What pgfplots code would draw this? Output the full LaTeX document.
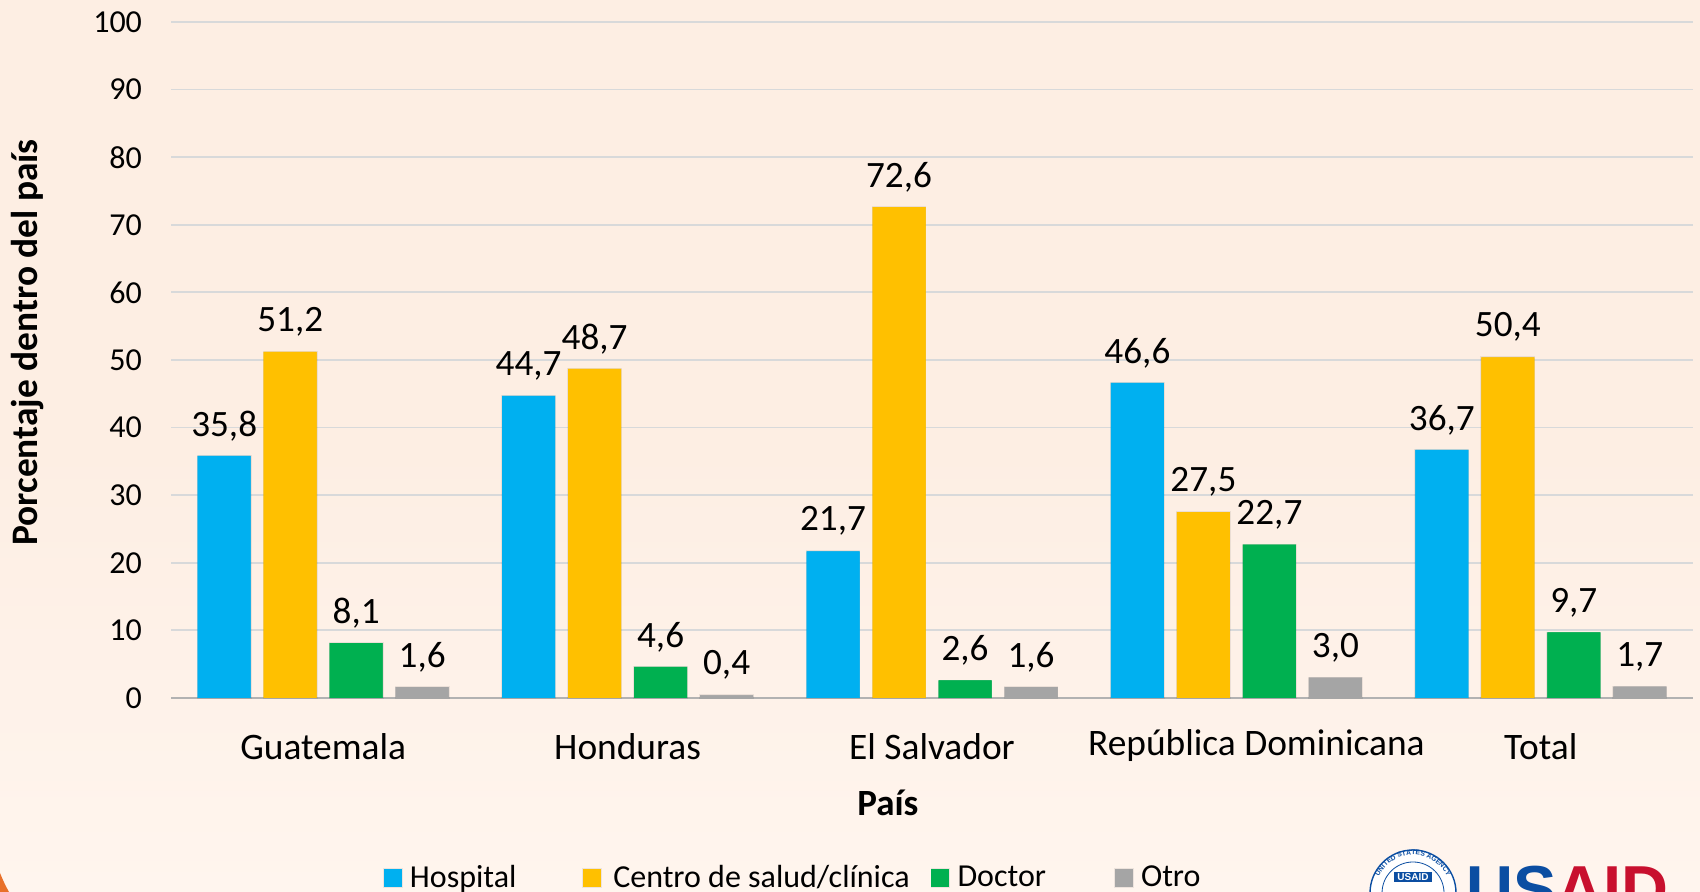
\documentclass[border=0pt]{standalone}
\usepackage{pgfplots}
\pgfplotsset{compat=1.18}
\usepackage{fontspec}
\usetikzlibrary{decorations.text}
\setmainfont{Carlito}
\newfontfamily\logofont{Liberation Sans}
\definecolor{bgtop}{HTML}{FDEEE3}
\definecolor{bgbot}{HTML}{FFF5EE}
\definecolor{cblue}{HTML}{00B0F0}
\definecolor{corange}{HTML}{FFC000}
\definecolor{cgreen}{HTML}{00B050}
\definecolor{cgray}{HTML}{A5A5A5}
\definecolor{gridc}{HTML}{D8D9DA}
\definecolor{usblue}{HTML}{0B4EA2}
\definecolor{usred}{HTML}{C8102E}
\definecolor{cornerc}{HTML}{E8702A}
\pgfplotstableread{
x hospital centro doctor otro
0 35.8 51.2 8.1 1.6
1 44.7 48.7 4.6 0.4
2 21.7 72.6 2.6 1.6
3 46.6 27.5 22.7 3.0
4 36.7 50.4 9.7 1.7
}\datatable
\pgfplotsset{
  swatch/.style={
    draw=none,fill=#1,
    preaction={draw=black,draw opacity=.07,line width=0.9pt},
    legend image code/.code={\fill[#1,draw=none] (0pt,-4.5pt) rectangle (9pt,4.5pt);},
  }
}
\begin{document}
\begin{tikzpicture}
\path[use as bounding box] (0,0) rectangle (850pt,446pt);
\clip (0,0) rectangle (850pt,446pt);
\shade[top color=bgtop,bottom color=bgbot,middle color=bgtop,draw=none] (0,0) rectangle (850pt,446pt);
\fill[cornerc] (0,0) -- (0,9.5pt) .. controls (1.2pt,6.5pt) and (2.8pt,3pt) .. (4.5pt,0) -- cycle;
\begin{axis}[
  at={(85.5pt,97pt)},anchor=south west,
  scale only axis,width=761pt,height=338pt,
  xmin=-0.5,xmax=4.5,ymin=0,ymax=100,
  ybar=6.5pt,bar width=26.5pt,
  clip=false,
  axis x line=bottom,axis y line=left,
  x axis line style={-,draw=gray!60,line width=1.2pt},
  y axis line style={draw=none},
  major tick length=0pt,
  ymajorgrids,grid style={gridc,line width=0.9pt},
  ytick={0,10,...,100},
  xtick={0,1,2,3,4},
  xticklabels={Guatemala,Honduras,El Salvador,{\hspace*{20pt}\raisebox{2pt}{República Dominicana}},Total},
  /pgf/number format/assume math mode=true,
  yticklabel style={font=\fontsize{16}{18}\selectfont,xshift=-11pt},
  xticklabel style={font=\fontsize{18.7}{20}\selectfont,anchor=base,yshift=-31pt},
  xlabel={País},
  ylabel={Porcentaje dentro del país},
  xlabel style={font=\fontsize{18.5}{20}\bfseries\selectfont,at={(axis description cs:0.471,-0.155)},anchor=center},
  ylabel style={font=\fontsize{18.7}{20}\bfseries\selectfont,at={(axis description cs:-0.0945,0.526)},anchor=center},
  nodes near coords,
  nodes near coords style={font=\fontsize{18.6}{20}\selectfont,anchor=center,yshift=15pt,
    /pgf/number format/.cd,fixed,fixed zerofill,precision=1,use comma,assume math mode=true},
  legend columns=4,
  legend cell align=left,
  legend style={at={(axis description cs:0.139,-0.266)},anchor=west,draw=none,fill=none,inner sep=0pt,
    font=\fontsize{16}{18}\selectfont,
    /tikz/column 1/.style={column sep=1.6pt},
    /tikz/column 2/.style={column sep=30.9pt},
    /tikz/column 3/.style={column sep=3.6pt},
    /tikz/column 4/.style={column sep=8.4pt},
    /tikz/column 5/.style={column sep=1.6pt},
    /tikz/column 6/.style={column sep=32pt},
    /tikz/column 7/.style={column sep=1.6pt}},
]
\addplot[swatch=cblue] table[x=x,y=hospital] {\datatable};
\addplot[swatch=corange] table[x=x,y=centro] {\datatable};
\addplot[swatch=cgreen] table[x=x,y=doctor] {\datatable};
\addplot[swatch=cgray] table[x=x,y=otro] {\datatable};
\legend{Hospital,Centro de salud/clínica,Doctor,Otro}
\end{axis}
% USAID logo, cut by the lower edge
\draw[usblue,line width=0.7pt,fill=white] (706.5pt,-0.5pt) circle (21.5pt);
\draw[usblue,line width=0.4pt] (706.5pt,-0.5pt) circle (15.5pt);
\path[postaction={decorate,decoration={text along path,text align=center,
   text={|\logofont\bfseries\fontsize{3.4}{4}\selectfont\color{usblue}|UNITED STATES AGENCY}}}]
  (688pt,3pt) arc (170:10:18.8pt);
\node[fill=usblue,text=white,font=\logofont\bfseries\fontsize{5}{6}\selectfont,inner sep=0.8pt,minimum width=19pt] at (706.5pt,7.5pt) {USAID};
\node[anchor=base west,inner sep=0pt,font=\logofont\bfseries\fontsize{32.5}{35}\selectfont] at (733pt,-10pt) {\textcolor{usblue}{US}\textcolor{usred}{AID}};
\end{tikzpicture}
\end{document}
